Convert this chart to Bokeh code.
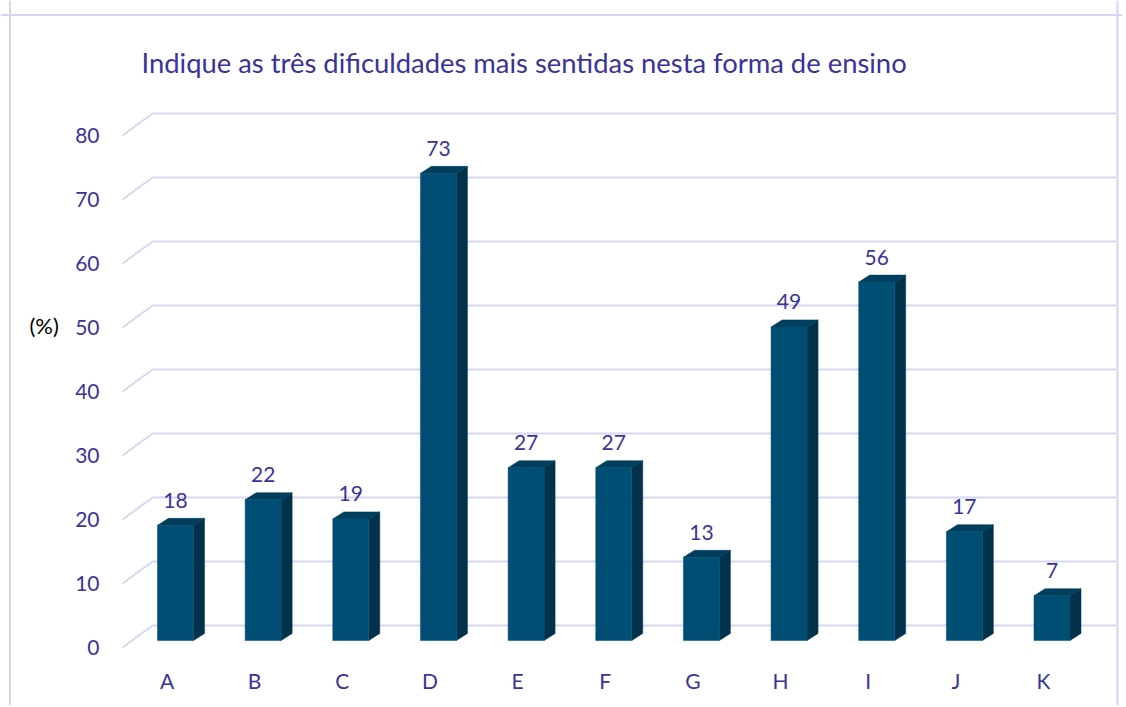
from bokeh.plotting import figure
from bokeh.models import Range1d, ColumnDataSource, Span
from bokeh.embed import file_html
from bokeh.resources import INLINE
from bokeh.core.properties import value

# ---------------- data ----------------
categories = ["A", "B", "C", "D", "E", "F", "G", "H", "I", "J", "K"]
values = [18, 22, 19, 73, 27, 27, 13, 49, 56, 17, 7]
y_ticks = [0, 10, 20, 30, 40, 50, 60, 70, 80]
title_text = "Indique as três dificuldades mais sentidas nesta forma de ensino"
y_label = "(%)"

# ---------------- styling / layout constants ----------------
FONT = "Lato"
TEXT_COLOR = "#3a3399"
GRID_COLOR = "#d8d6f3"
BORDER_COLOR = "#d6d4f2"
FRONT_COLOR = "#004e74"
SIDE_COLOR = "#00324c"
TOP_COLOR = "#003e5e"

W, H = 1122, 705
PX_X = 87.65              # pixels per category
PX_Y = 6.4                # pixels per percent
CAT0_X = 166.5            # canvas x of first category centre
BASE_Y = 640              # canvas y of bar base

FRONT_DROP = 7            # front plane below bar plane (px)
BACK_RISE = 15            # back wall above bar plane (px)
DIAG_FRONT_X = -44.5      # side gridline front end, px from first category centre
DIAG_BACK_X = -14.5       # side gridline back end
FACE_L, FACE_R = -9.5, 26.5
DEPTH_DX, DEPTH_DY = 11, 7

x_start = -CAT0_X / PX_X
x_end = x_start + W / PX_X
y_start = -(H - BASE_Y) / PX_Y
y_end = y_start + H / PX_Y


def px_x(cx):  # canvas px -> data x
    return x_start + cx / PX_X


def px_y(cy):  # canvas px (from top) -> data y
    return y_end - cy / PX_Y


p = figure(width=W, height=H, output_backend="svg", toolbar_location=None,
           x_range=Range1d(x_start, x_end), y_range=Range1d(y_start, y_end),
           x_axis_location=None, y_axis_location=None,
           min_border_left=0, min_border_right=0,
           min_border_top=0, min_border_bottom=0)
p.grid.visible = False
p.outline_line_color = None
p.background_fill_color = "white"
p.border_fill_color = "white"

# ---------------- chart border ----------------
for loc, dim in ((px_x(9.5), "height"), (px_x(1117), "height"), (px_y(14.5), "width")):
    p.add_layout(Span(location=loc, dimension=dim, line_color=BORDER_COLOR, line_width=2))

# ---------------- back wall gridlines + side diagonals ----------------
bdy = BACK_RISE / PX_Y
fdy = FRONT_DROP / PX_Y
xb = DIAG_BACK_X / PX_X
xf = DIAG_FRONT_X / PX_X
n = len(y_ticks)
gy = [t + bdy for t in y_ticks]
p.segment(x0=[xb] * n, y0=gy, x1=[px_x(1116)] * n, y1=gy, line_color=GRID_COLOR, line_width=2)
p.segment(x0=[xf] * n, y0=[t - fdy for t in y_ticks], x1=[xb] * n, y1=gy,
          line_color=GRID_COLOR, line_width=2)

# ---------------- 3D bars ----------------
idx = list(range(len(categories)))
L = [i + FACE_L / PX_X for i in idx]
R = [i + FACE_R / PX_X for i in idx]
ddx = DEPTH_DX / PX_X
ddy = DEPTH_DY / PX_Y

side_xs = [[r, r + ddx, r + ddx, r] for r in R]
side_ys = [[0, ddy, v + ddy, v] for v in values]
top_xs = [[l, r, r + ddx, l + ddx] for l, r in zip(L, R)]
top_ys = [[v, v, v + ddy, v + ddy] for v in values]

p.patches(xs=side_xs, ys=side_ys, fill_color=SIDE_COLOR, line_color=SIDE_COLOR, line_width=0.5)
p.patches(xs=top_xs, ys=top_ys, fill_color=TOP_COLOR, line_color=TOP_COLOR, line_width=0.5)
p.quad(left=L, right=R, bottom=[0] * len(values), top=values,
       fill_color=FRONT_COLOR, line_color=FRONT_COLOR, line_width=0.5)

# value labels
lab_src = ColumnDataSource(dict(x=[i + (FACE_L + FACE_R) / 2 / PX_X for i in idx],
                                y=values, t=[str(v) for v in values]))
p.text(x="x", y="y", text="t", source=lab_src, y_offset=-25,
       text_align="center", text_baseline="middle",
       text_font=value(FONT), text_font_size="21px", text_color=TEXT_COLOR)

# ---------------- y tick labels (front plane) ----------------
ytk = ColumnDataSource(dict(x=[px_x(99)] * n, y=[t - fdy for t in y_ticks],
                            t=[str(t) for t in y_ticks]))
p.text(x="x", y="y", text="t", source=ytk, text_align="right", text_baseline="middle",
       text_font=value(FONT), text_font_size="21px", text_color=TEXT_COLOR)

# y axis label
p.text(x=[px_x(29)], y=[px_y(325)], text=[y_label], text_align="left", text_baseline="middle",
       text_font=value(FONT), text_font_size="22px", text_color="black")

# ---------------- category labels ----------------
xtk = ColumnDataSource(dict(x=idx, y=[px_y(680)] * len(idx), t=categories))
p.text(x="x", y="y", text="t", source=xtk, text_align="center", text_baseline="middle",
       text_font=value(FONT), text_font_size="21px", text_color=TEXT_COLOR)

# ---------------- title ----------------
p.text(x=[px_x(141)], y=[px_y(62)], text=[title_text], text_align="left",
       text_baseline="middle", text_font=value(FONT), text_font_size="27.4px",
       text_color=TEXT_COLOR)

open("out.html", "w").write(file_html(p, INLINE))
